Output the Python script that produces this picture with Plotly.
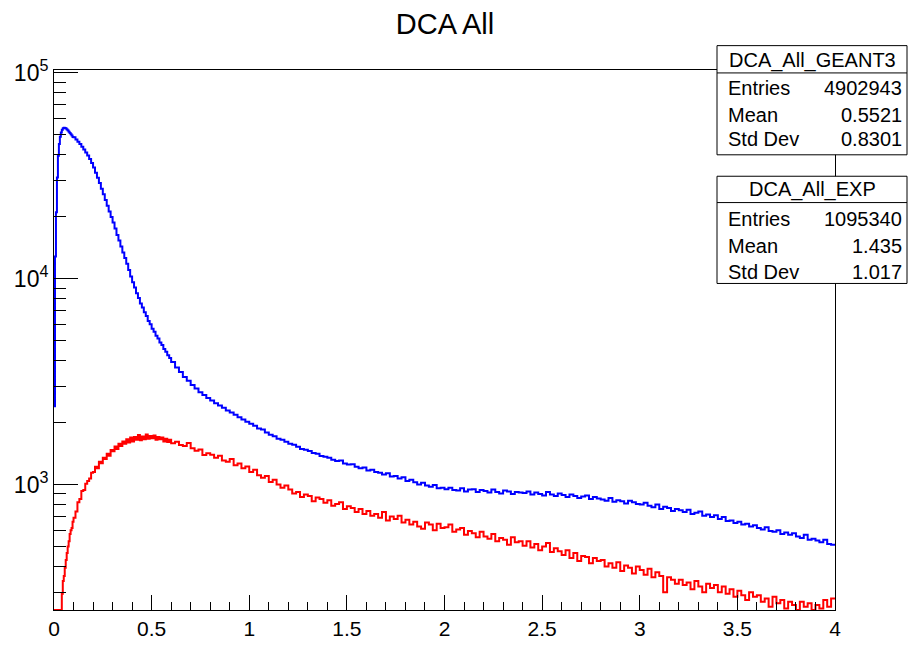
import numpy as np
import plotly.graph_objects as go

# ---- histogram data -------------------------------------------------------
# Variable binning: 0.005 wide on [0, 0.1), 0.01 on [0.1, 0.6), 0.02 on [0.6, 4].
SECTIONS = [(0.0, 0.005, 20), (0.1, 0.01, 50), (0.6, 0.02, 170)]

geant3_fine = [2400, 12800, 21000, 31000, 39500, 45000, 48800, 51200, 52800, 53700,
               54000, 53900, 53500, 52900, 52300, 51600, 50900, 50200, 49500, 48700]
geant3_mid = [
    48600, 47400, 46200, 45000, 43700, 42400, 41000, 39600, 38100, 36400,
    34600, 32700, 30900, 29100, 27300, 25700, 24100, 22600, 21200, 19900,
    18700, 17500, 16300, 15300, 14300, 13400, 12600, 11800, 11000, 10250,
    9600, 9050, 8480, 8040, 7580, 7240, 6860, 6580, 6230, 6000,
    5710, 5520, 5280, 5120, 4900, 4760, 4550, 4420, 4240, 4120,
]
geant3_coarse = [
    3940, 3700, 3520, 3330, 3190, 3040, 2930, 2810, 2720, 2630,
    2560, 2480, 2420, 2360, 2290, 2240, 2180, 2120, 2070, 2020,
    1975, 1930, 1870, 1850, 1790, 1745, 1715, 1670, 1650, 1615,
    1580, 1560, 1525, 1490, 1475, 1455, 1425, 1410, 1375, 1365,
    1350, 1320, 1300, 1310, 1265, 1250, 1255, 1220, 1200, 1210,
    1170, 1180, 1150, 1140, 1120, 1135, 1095, 1100, 1070, 1085,
    1040, 1055, 1025, 1000, 1020, 990, 975, 995, 960, 965,
    950, 965, 940, 935, 960, 925, 945, 950, 920, 940,
    930, 915, 945, 920, 905, 935, 925, 900, 920, 915,
    910, 925, 895, 915, 900, 885, 920, 895, 880, 905,
    890, 870, 895, 880, 860, 875, 885, 850, 870, 855,
    845, 835, 860, 825, 840, 830, 810, 835, 820, 805,
    800, 815, 790, 775, 800, 760, 780, 770, 745, 760,
    750, 735, 755, 720, 730, 740, 705, 715, 695, 710,
    680, 695, 665, 670, 650, 660, 640, 645, 625, 635,
    615, 605, 620, 595, 590, 600, 575, 585, 570, 580,
    560, 550, 570, 540, 545, 535, 525, 540, 515, 510,
]

exp_fine = [0, 0, 3, 10, 25, 50, 90, 180, 295, 340,
            360, 395, 430, 465, 500, 530, 575, 600, 615, 660]
exp_mid = [
    690, 740, 820, 850, 930, 940, 1010, 1040, 1070, 1140,
    1150, 1220, 1200, 1290, 1270, 1350, 1330, 1410, 1380, 1470,
    1450, 1530, 1490, 1580, 1540, 1620, 1580, 1660, 1600, 1690,
    1620, 1700, 1650, 1740, 1640, 1710, 1660, 1750, 1670, 1720,
    1680, 1730, 1650, 1700, 1660, 1690, 1620, 1670, 1610, 1650,
]
exp_coarse = [
    1585, 1615, 1555, 1540, 1590, 1500, 1460, 1480, 1390, 1420,
    1395, 1350, 1380, 1310, 1290, 1330, 1240, 1265, 1200, 1225,
    1150, 1180, 1110, 1080, 1100, 1030, 1055, 1000, 965, 990,
    945, 905, 920, 870, 895, 880, 830, 865, 850, 815,
    840, 790, 805, 820, 760, 785, 770, 735, 760, 720,
    745, 705, 720, 690, 735, 670, 700, 680, 705, 655,
    675, 640, 660, 625, 610, 655, 640, 600, 645, 615,
    620, 640, 590, 605, 615, 570, 595, 580, 555, 590,
    560, 545, 575, 530, 550, 540, 510, 555, 525, 530,
    505, 530, 495, 515, 480, 500, 520, 470, 490, 475,
    455, 480, 440, 465, 425, 450, 445, 415, 440, 425,
    430, 400, 415, 395, 420, 380, 405, 395, 370, 400,
    385, 365, 390, 355, 375, 360, 300, 355, 345, 330,
    345, 325, 335, 310, 340, 320, 300, 330, 315, 325,
    300, 320, 295, 310, 285, 305, 290, 275, 300, 285,
    290, 270, 280, 255, 285, 265, 275, 250, 270, 260,
    245, 270, 255, 265, 240, 260, 250, 275, 255, 280,
]

stats = [
    ("DCA_All_GEANT3", [("Entries", "4902943"), ("Mean", "0.5521"), ("Std Dev", "0.8301")]),
    ("DCA_All_EXP", [("Entries", "1095340"), ("Mean", "1.435"), ("Std Dev", "1.017")]),
]

X_MIN, X_MAX = 0.0, 4.0
Y_MIN, Y_MAX = 246.0, 1.03e5

# ---- geometry helpers -----------------------------------------------------
W, H = 908, 652
L, R, T, B = 54, 835, 70, 624          # frame edges in pixels


def px(xp):
    return (xp - L) / (R - L)


def py(yp):
    return (B - yp) / (B - T)


edges = np.concatenate(
    [start + np.arange(n) * w for start, w, n in SECTIONS] + [[X_MAX]]
)


def step_xy(*parts):
    vals = np.array([v for p in parts for v in p], dtype=float)
    # contents under the frame floor are drawn on the floor, as ROOT does
    vals = np.maximum(vals, Y_MIN)
    return edges, np.append(vals, vals[-1])


FONT = "Liberation Sans, Arial, Helvetica, sans-serif"

fig = go.Figure()
for parts, color, name in [
    ((geant3_fine, geant3_mid, geant3_coarse), "#0000ff", "DCA_All_GEANT3"),
    ((exp_fine, exp_mid, exp_coarse), "#ff0000", "DCA_All_EXP"),
]:
    xs, ys = step_xy(*parts)
    fig.add_trace(go.Scatter(x=xs, y=ys, mode="lines", line_shape="hv",
                             line=dict(color=color, width=2), name=name,
                             showlegend=False, hoverinfo="skip"))

minor_y = [m * 10 ** d for d in (2, 3, 4) for m in range(2, 10)
           if Y_MIN <= m * 10 ** d <= Y_MAX]

fig.update_layout(
    width=W, height=H,
    margin=dict(l=L, r=W - R, t=T, b=H - B),
    paper_bgcolor="white", plot_bgcolor="white",
    font=dict(family=FONT, color="black"),
    title=dict(text="DCA All", font=dict(size=29), x=px(445), xref="paper",
               xanchor="center", y=1 - 24 / H, yanchor="middle"),
    xaxis=dict(range=[X_MIN, X_MAX], tickmode="array",
               tickvals=[0, 0.5, 1, 1.5, 2, 2.5, 3, 3.5, 4],
               ticktext=["0", "0.5", "1", "1.5", "2", "2.5", "3", "3.5", "4"],
               ticks="inside", ticklen=15, tickcolor="black", tickwidth=1,
               minor=dict(ticks="inside", ticklen=8, tickcolor="black",
                          tickmode="linear", tick0=0, dtick=0.1),
               showline=True, linecolor="black", linewidth=1, mirror=True,
               showgrid=False, zeroline=False,
               tickfont=dict(size=21)),
    yaxis=dict(type="log", range=[np.log10(Y_MIN), np.log10(Y_MAX)],
               tickmode="array", tickvals=[1e3, 1e4, 1e5],
               ticktext=["10<sup>3</sup>", "10<sup>4</sup>", "10<sup>5</sup>"],
               ticks="inside", ticklen=24, tickcolor="black", tickwidth=1,
               minor=dict(ticks="inside", ticklen=12, tickcolor="black",
                          tickmode="array", tickvals=minor_y),
               showline=True, linecolor="black", linewidth=1, mirror=True,
               showgrid=False, zeroline=False,
               tickfont=dict(size=23)),
)

# ---- statistics boxes -----------------------------------------------------
box_specs = [
    dict(top=45, title_bottom=73, bottom=157, title_y=60, rows=[88, 116.5, 140.5]),
    dict(top=179, title_bottom=206, bottom=289, title_y=193, rows=[223, 250.5, 277]),
]
BOX_L, BOX_R = 717, 907
for (title, rows), spec in zip(stats, box_specs):
    fig.add_shape(type="rect", xref="paper", yref="paper",
                  x0=px(BOX_L), x1=px(BOX_R), y0=py(spec["bottom"]), y1=py(spec["top"]),
                  line=dict(color="black", width=1), fillcolor="white", layer="above")
    fig.add_shape(type="line", xref="paper", yref="paper",
                  x0=px(BOX_L), x1=px(BOX_R), y0=py(spec["title_bottom"]),
                  y1=py(spec["title_bottom"]), line=dict(color="black", width=1),
                  layer="above")
    fig.add_annotation(text=title, xref="paper", yref="paper",
                       x=px((BOX_L + BOX_R) / 2), y=py(spec["title_y"]),
                       xanchor="center", yanchor="middle", showarrow=False,
                       font=dict(size=20))
    for (label, value), ry in zip(rows, spec["rows"]):
        fig.add_annotation(text=label, xref="paper", yref="paper",
                           x=px(726), y=py(ry), xanchor="left", yanchor="middle",
                           showarrow=False, font=dict(size=20))
        fig.add_annotation(text=value, xref="paper", yref="paper",
                           x=px(904), y=py(ry), xanchor="right", yanchor="middle",
                           showarrow=False, font=dict(size=20))

fig.write_html("out.html")
